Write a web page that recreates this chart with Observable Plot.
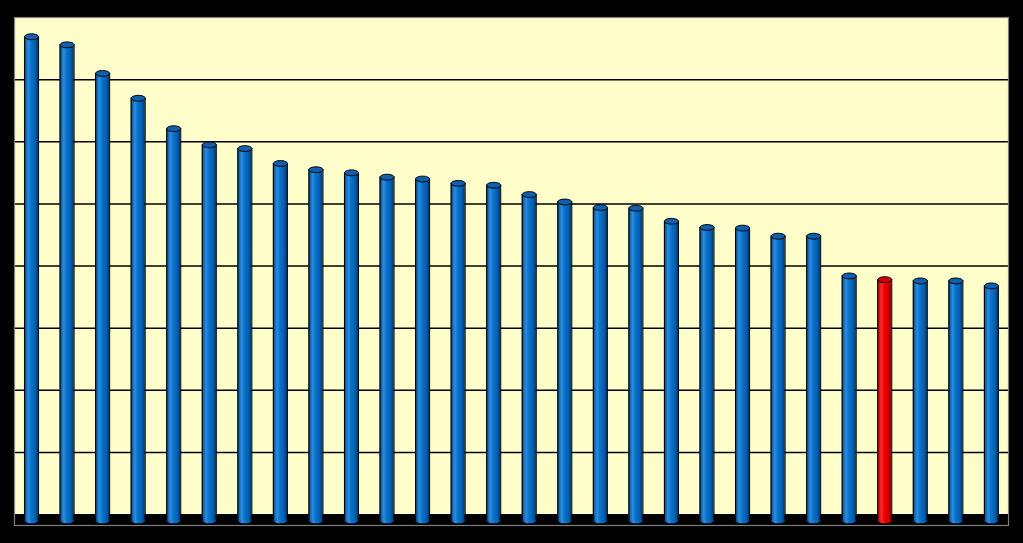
<!DOCTYPE html>
<html>
<head>
<meta charset="utf-8">
<script src="https://cdn.jsdelivr.net/npm/d3@7"></script>
<script src="https://cdn.jsdelivr.net/npm/@observablehq/plot@0.6"></script>
<style>
  html, body { margin: 0; padding: 0; background: #000; }
  #chart svg { display: block; }
</style>
</head>
<body>
<div id="chart"></div>
<script>
// Categories (no visible labels in the reference) and values
const categories = ["1","2","3","4","5","6","7","8","9","10","11","12","13","14",
  "15","16","17","18","19","20","21","22","23","24","25","26","27","28"];
const values = [76.9, 75.6, 71.0, 67.0, 62.1, 59.5, 58.9, 56.5, 55.5, 55.0, 54.3, 54.0, 53.3, 53.0,
  51.5, 50.3, 49.4, 49.3, 47.2, 46.2, 46.1, 44.8, 44.8, 38.4, 37.8, 37.6, 37.6, 36.8];
const highlighted = ["25"];
const gridTicks = [10, 20, 30, 40, 50, 60, 70];
const yMax = 80;

const data = categories.map((c, i) => ({name: c, value: values[i], hi: highlighted.includes(c)}));
const blue = data.filter(d => !d.hi);
const red = data.filter(d => d.hi);

const baseDepth = -0.95; // cylinder base sits slightly in front of the back wall
const rx = 7, ry = 2.9, k = 0.5523;
const ellipse = {
  draw(ctx) {
    ctx.moveTo(rx, 0);
    ctx.bezierCurveTo(rx, ry * k, rx * k, ry, 0, ry);
    ctx.bezierCurveTo(-rx * k, ry, -rx, ry * k, -rx, 0);
    ctx.bezierCurveTo(-rx, -ry * k, -rx * k, -ry, 0, -ry);
    ctx.bezierCurveTo(rx * k, -ry, rx, -ry * k, rx, 0);
    ctx.closePath();
  }
};

function cylinder(rows, body, top) {
  return [
    Plot.dot(rows, {x: "name", y: baseDepth, symbol: ellipse, r: 3, fill: body, stroke: "none"}),
    Plot.rect(rows, {x: "name", y1: baseDepth, y2: "value", fill: body, stroke: "none"}),
    Plot.ruleX(rows, {x: "name", y1: baseDepth, y2: "value", dx: -rx, stroke: "#000", strokeWidth: 1}),
    Plot.ruleX(rows, {x: "name", y1: baseDepth, y2: "value", dx: rx, stroke: "#000", strokeWidth: 1}),
    Plot.dot(rows, {x: "name", y: "value", symbol: ellipse, r: 3, fill: top, stroke: "#000", strokeWidth: 1})
  ];
}

const chart = Plot.plot({
  width: 1023,
  height: 543,
  marginLeft: 14,
  marginRight: 15,
  marginTop: 17,
  marginBottom: 18,
  insetBottom: 11,
  style: {background: "#000"},
  x: {domain: categories, paddingInner: 0.6, paddingOuter: 0.28, round: false, axis: null},
  y: {domain: [0, yMax], axis: null},
  marks: [
    Plot.rect([0], {y1: 0, y2: yMax, fill: "#FFFFCC"}),
    Plot.ruleY(gridTicks, {stroke: "#000", strokeWidth: 1.5}),
    Plot.frame({stroke: "#7f7f7f", strokeWidth: 1.2}),
    ...cylinder(blue, "url(#blueBody)", "#1060ad"),
    ...cylinder(red, "url(#redBody)", "#d40000")
  ]
});

// gradient definitions for the cylinder shading
const svg = d3.select(chart);
const defs = svg.insert("defs", ":first-child");
function grad(id, stops) {
  const g = defs.append("linearGradient").attr("id", id)
    .attr("x1", "0").attr("x2", "1").attr("y1", "0").attr("y2", "0");
  stops.forEach(([o, c]) => g.append("stop").attr("offset", o).attr("stop-color", c));
}
grad("blueBody", [[0, "#00427f"], [0.3, "#2a8ee0"], [0.5, "#0a72cc"], [0.8, "#065eab"], [1, "#00346a"]]);
grad("redBody", [[0, "#a00000"], [0.3, "#ff2a2a"], [0.5, "#f00000"], [0.8, "#d00000"], [1, "#8a0000"]]);

document.getElementById("chart").append(chart);
</script>
</body>
</html>
